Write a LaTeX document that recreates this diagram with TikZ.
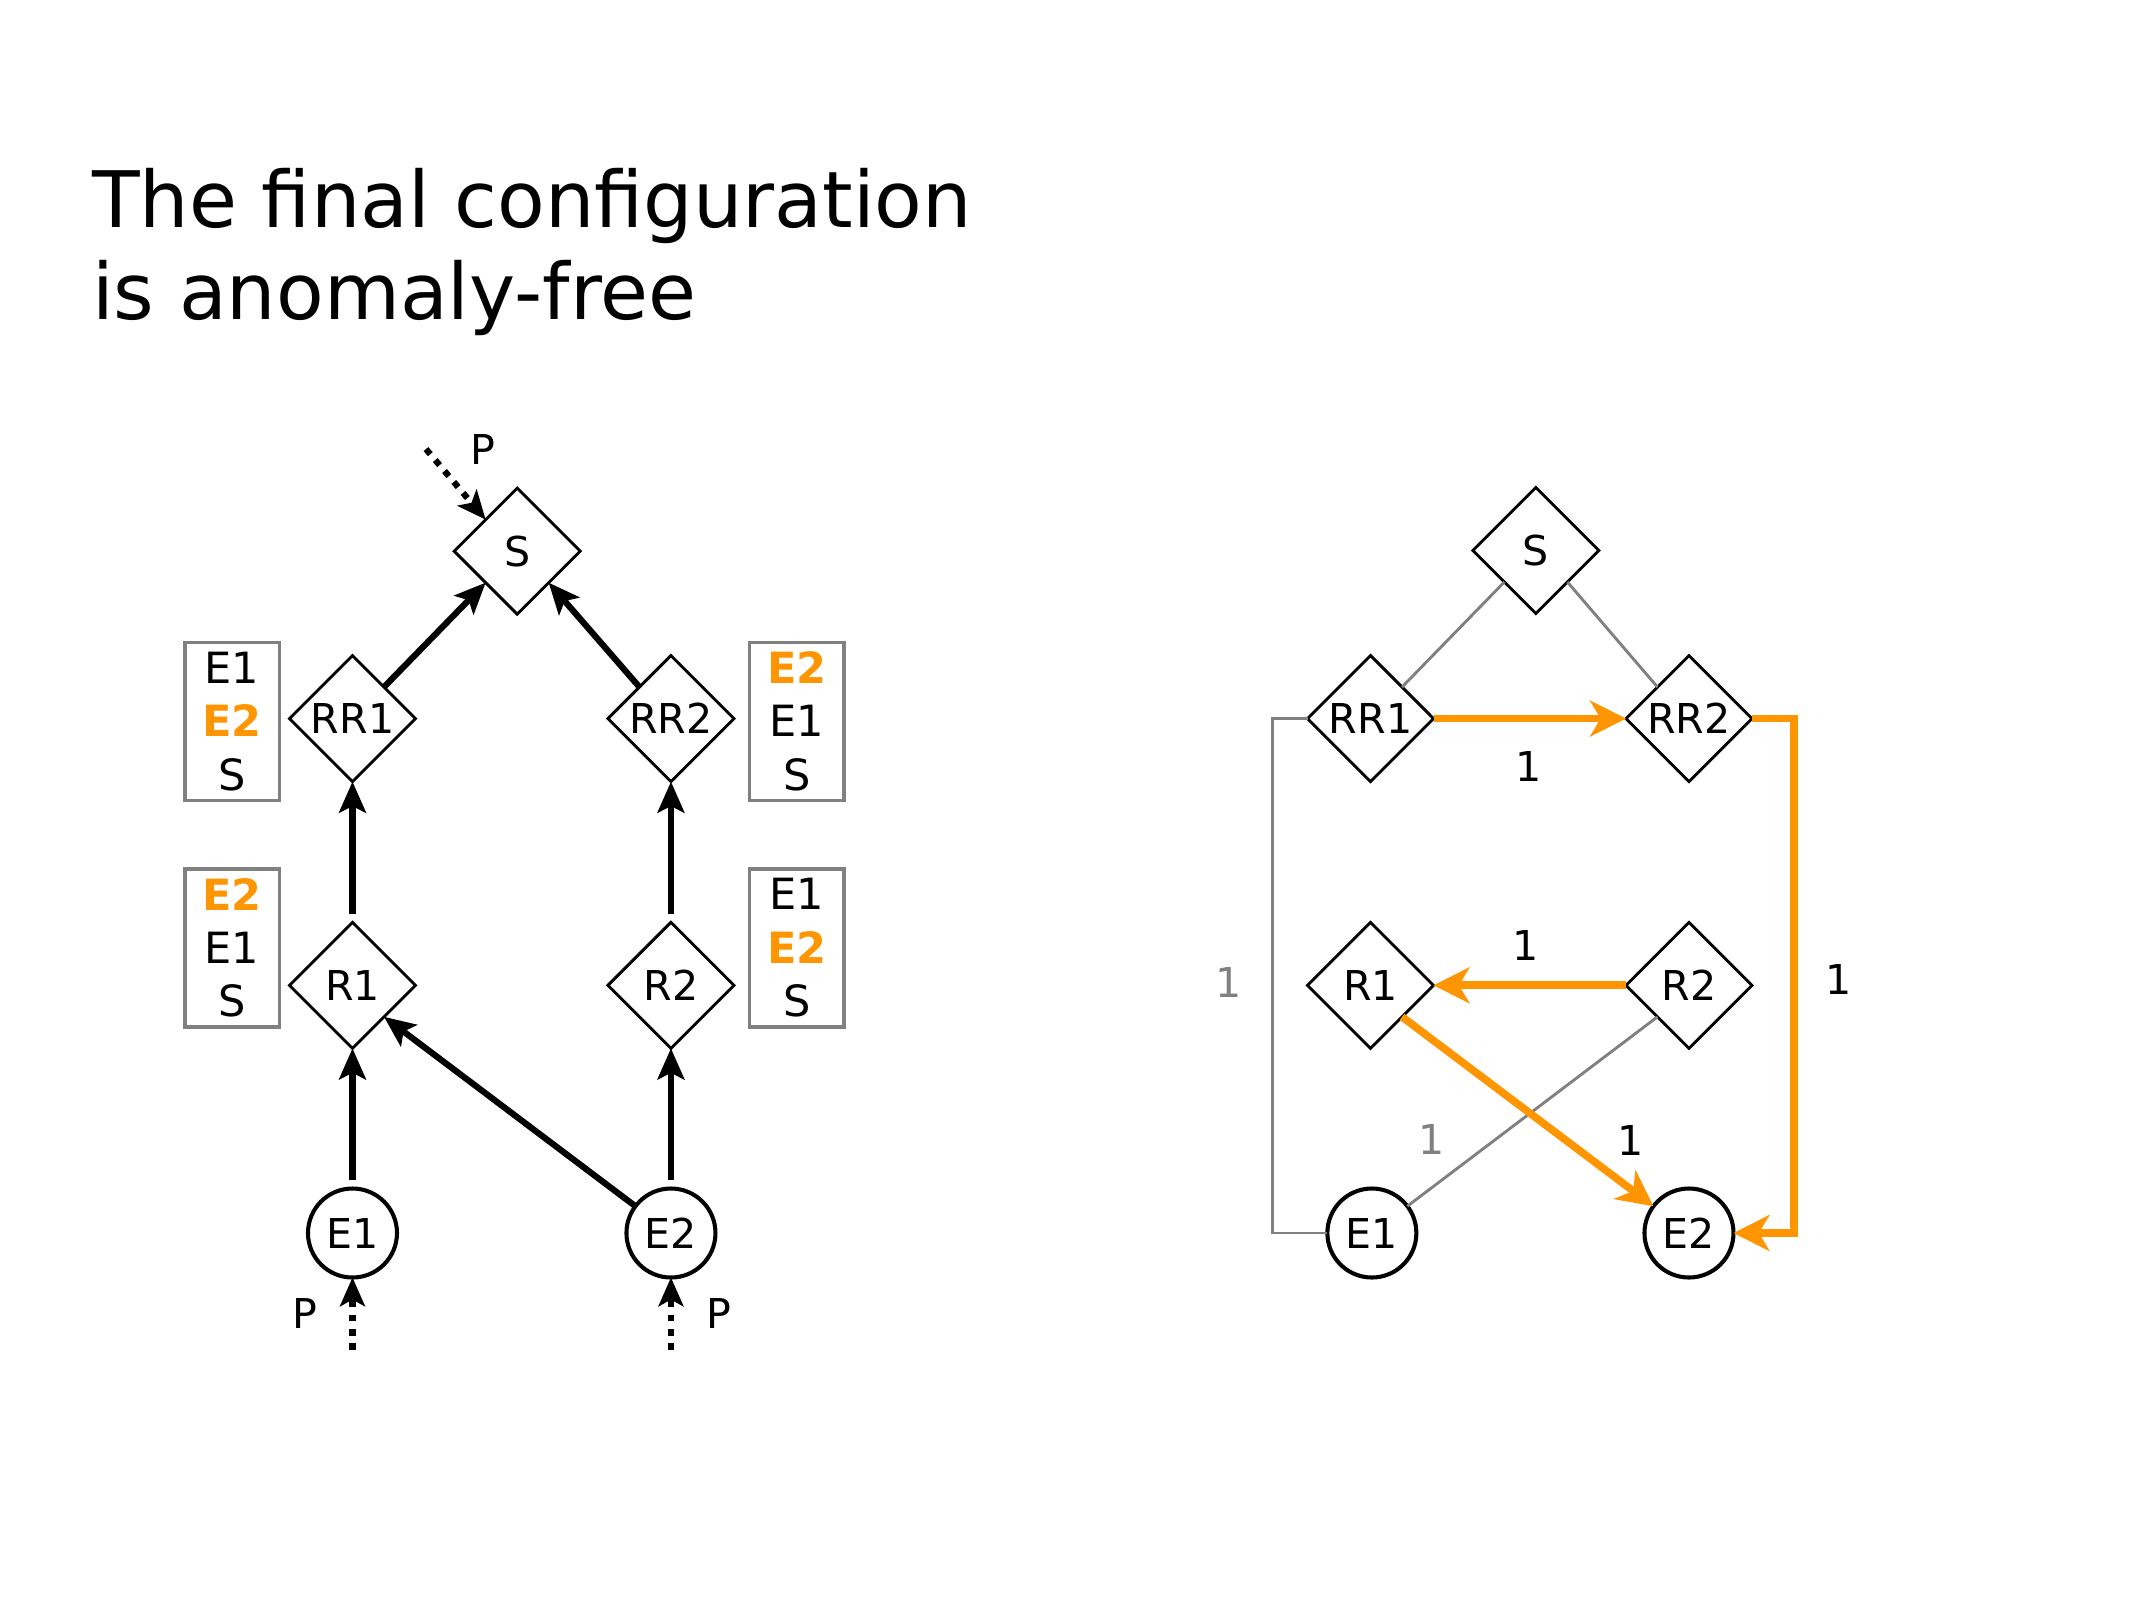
\documentclass[tikz,border=0pt]{standalone}
\usepackage{fontspec}
\setmainfont{DejaVu Sans}
\usetikzlibrary{shapes.geometric,arrows.meta}

\definecolor{cfgorange}{RGB}{255,149,0}
\definecolor{cfggray}{RGB}{128,128,128}
\newcommand{\lblfont}{\fontsize{8.6}{10}\selectfont}
\newcommand{\rankfont}{\fontsize{9}{11.15}\selectfont}
\newcommand{\hl}[1]{\textcolor{cfgorange}{\textbf{#1}}}

\tikzset{
  rnode/.style={draw, diamond, aspect=1, inner sep=0pt, outer sep=0pt, minimum size=0.926cm, line width=0.6pt, font=\lblfont},
  enode/.style={draw, circle, inner sep=0pt, outer sep=0pt, minimum size=0.654cm, line width=0.85pt, font=\lblfont},
  rankbox/.style={draw=cfggray, line width=0.7pt, minimum width=0.693cm, minimum height=1.16cm, inner sep=0pt, align=center, font=\rankfont},
  sess/.style={-{Stealth[length=6.5pt,width=5.6pt,inset=1.4pt]}, line width=1.3pt},
  inject/.style={-{Stealth[length=6pt,width=5.2pt,inset=1.4pt]}, line width=1.3pt, dash pattern=on 1.4pt off 1.6pt},
  igp/.style={cfggray, line width=0.6pt},
  best/.style={cfgorange, line width=1.6pt, -{Stealth[length=7.5pt,width=7.5pt,inset=2.2pt]}},
  wlbl/.style={font=\lblfont, inner sep=1pt},
}

\begin{document}
\begin{tikzpicture}
\useasboundingbox (0,0) rectangle (15.68,11.76);

\node[anchor=base west, align=left, inner sep=0pt, font=\fontsize{16.3}{19.2}\selectfont] (title) at (0.67,9.41) {The final configuration\\is anomaly-free};

% left: iBGP sessions and ranking
\node[rnode] (S) at (3.80,7.71) {S};
\node[rnode] (RR1) at (2.59,6.48) {RR1};
\node[rnode] (RR2) at (4.93,6.48) {RR2};
\node[rnode] (R1) at (2.59,4.52) {R1};
\node[rnode] (R2) at (4.93,4.52) {R2};
\node[enode] (E1) at (2.59,2.70) {E1};
\node[enode] (E2) at (4.93,2.70) {E2};

\node[rankbox] (rkRR1) at (1.705,6.46) {E1\\\hl{E2}\\S};
\node[rankbox] (rkRR2) at (5.855,6.46) {\hl{E2}\\E1\\S};
\node[rankbox] (rkR1) at (1.705,4.795) {\hl{E2}\\E1\\S};
\node[rankbox] (rkR2) at (5.855,4.795) {E1\\\hl{E2}\\S};

\draw[sess] (RR1.north east) -- (S.south west);
\draw[sess] (RR2.north west) -- (S.south east);
\draw[sess, shorten <=1.8pt] (R1) -- (RR1);
\draw[sess, shorten <=1.8pt] (R2) -- (RR2);
\draw[sess, shorten <=1.8pt] (E1) -- (R1);
\draw[sess, shorten <=1.8pt] (E2) -- (R2);
\draw[sess] (E2) -- (R1.south east);

\coordinate (pS) at (3.13,8.46);
\coordinate (pE1) at (2.59,1.84);
\coordinate (pE2) at (4.93,1.84);
\draw[inject] (pS) -- (S.north west);
\draw[inject] (pE1) -- (E1);
\draw[inject] (pE2) -- (E2);
\node[wlbl] (PS) at (3.55,8.46) {P};
\node[wlbl] (PE1) at (2.24,2.11) {P};
\node[wlbl] (PE2) at (5.28,2.11) {P};

% right: IGP and chosen paths
\node[rnode] (xS) at (11.285,7.715) {S};
\node[rnode] (xRR1) at (10.07,6.48) {RR1};
\node[rnode] (xRR2) at (12.41,6.48) {RR2};
\node[rnode] (xR1) at (10.07,4.52) {R1};
\node[rnode] (xR2) at (12.41,4.52) {R2};
\node[enode] (xE1) at (10.08,2.70) {E1};
\node[enode] (xE2) at (12.41,2.70) {E2};

\draw[igp] (xS.south west) -- (xRR1.north east);
\draw[igp] (xS.south east) -- (xRR2.north west);
\draw[igp] (xRR1.west) -- ++(-0.26,0) |- (xE1.west);
\draw[igp] (xR2.south west) -- (xE1);
\draw[best] (xRR1.east) -- (xRR2.west);
\draw[best] (xRR2.east) -- ++(0.31,0) |- (xE2.east);
\draw[best] (xR2.west) -- (xR1.east);
\draw[best] (xR1.south east) -- (xE2);

\node[wlbl, text=cfggray] (w1) at (9.03,4.54) {1};
\node[wlbl, text=cfggray] (w2) at (10.52,3.39) {1};
\node[wlbl] (w3) at (11.23,6.13) {1};
\node[wlbl] (w4) at (13.51,4.56) {1};
\node[wlbl] (w5) at (11.21,4.81) {1};
\node[wlbl] (w6) at (11.98,3.38) {1};
\end{tikzpicture}
\end{document}
